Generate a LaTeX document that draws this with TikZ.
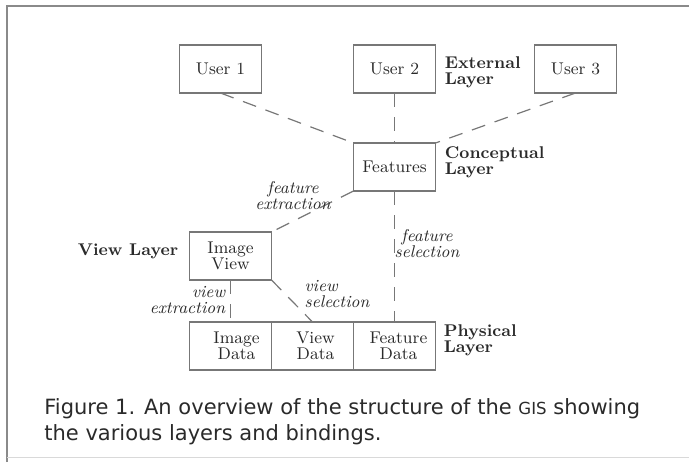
\documentclass[tikz,border=0pt]{standalone}
\usepackage{fontspec}
\newfontfamily\capfont{DejaVu Sans}
\usetikzlibrary{positioning}
\definecolor{ink}{HTML}{2A2A2A}
\definecolor{rulegray}{HTML}{777777}
\definecolor{framegray}{HTML}{8A8A8A}
\tikzset{
  box/.style={draw=rulegray, line width=0.6pt, outer sep=0pt, inner sep=2pt, minimum width=41pt, minimum height=24pt, align=center, text=ink, font=\fontsize{8.5}{8}\selectfont},
  layer/.style={inner sep=0pt, align=left, text=ink, font=\fontsize{8.5}{8}\selectfont\bfseries},
  tag/.style={inner sep=0pt, text=ink, font=\fontsize{8.5}{8}\selectfont\itshape},
  link/.style={draw=rulegray, line width=0.6pt, dash pattern=on 7pt off 5pt},
  caption/.style={inner sep=0pt, align=left, text=ink, font=\capfont\fontsize{10.5}{13}\selectfont}
}

\begin{document}
\begin{tikzpicture}[x=0.5pt, y=-0.5pt]
\useasboundingbox (0,0) rectangle (689,462);
% frame round the figure
\draw[framegray, line width=0.8pt] (7,462) -- (7,6) -- (689,6);
\draw[black!15, line width=0.5pt] (7,457) -- (689,457);

% boxes, one row per layer
\node[box] (user2) at (394.5,69) {User 2};
\node[box, left=46pt of user2] (user1) {User 1};
\node[box, right=49.5pt of user2] (user3) {User 3};
\node[box, below=25pt of user2] (features) {Features};
\node[box, below=65.5pt of features] (featdata) {\hspace*{4pt}Feature\\\hspace*{4pt}Data};
\node[box, left=0pt of featdata] (viewdata) {\hspace*{3pt}View\\\hspace*{3pt}Data};
\node[box, left=0pt of viewdata] (imgdata) {\hspace*{6pt}Image\\\hspace*{6pt}Data};
\node[box, above=21pt of imgdata] (imageview) {Image\\View};

% layer names
\node[layer, right=4.5pt of user2, yshift=-1.5pt] (extlayer) {External\\Layer};
\node[layer, right=4.5pt of features, yshift=2.2pt] (conclayer) {Conceptual\\Layer};
\node[layer, left=5.5pt of imageview, yshift=2.1pt] (viewlayer) {View Layer};
\node[layer, right=4pt of featdata, yshift=2.7pt] (phylayer) {Physical\\Layer};

% bindings
\draw[link] (user1.south) -- (features.north west);
\draw[link] (user2) -- (features);
\draw[link] (user3.south) -- (features.north east);
\draw[link] (features.south west) -- (imageview.north east);
\draw[link] (features) -- (featdata);
\draw[link] (imageview) -- (imgdata);
\draw[link] (imageview.south east) -- (viewdata.north);

\node[tag, align=center] (fextr) at (293,195.5) {feature\\extraction};
\node[tag, align=center] (fsel) at (427,244) {feature\\selection};
\node[tag, align=right] (vextr) at (187.5,300) {view\\extraction};
\node[tag, align=left] (vsel) at (337,294) {view\\selection};

\node[caption, anchor=north west] (cap) at (44,398) {Figure 1. An overview of the structure of the {\fontsize{8.3}{13}\selectfont GIS} showing\\the various layers and bindings.};
\end{tikzpicture}
\end{document}
